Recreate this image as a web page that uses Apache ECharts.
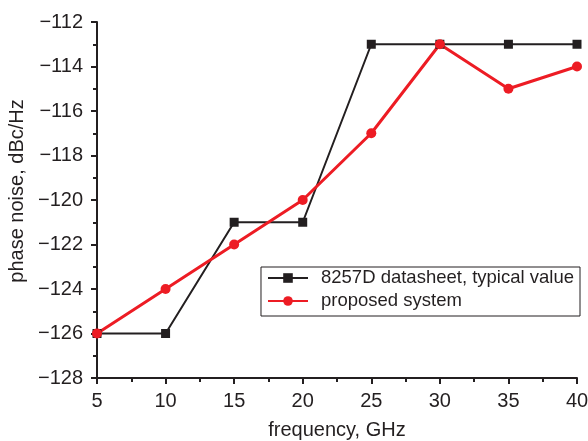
<!DOCTYPE html>
<html>
<head>
<meta charset="utf-8">
<script src="https://cdn.jsdelivr.net/npm/echarts@6/dist/echarts.min.js"></script>
<style>
  html, body { margin: 0; padding: 0; background: #fff; }
  #chart { width: 588px; height: 441px; }
</style>
</head>
<body>
<div id="chart"></div>
<script>
// frequency, GHz
var freq = [5, 10, 15, 20, 25, 30, 35, 40];
// phase noise, dBc/Hz
var datasheet = [-126, -126, -121, -121, -113, -113, -113, -113];
var proposed = [-126, -124, -122, -120, -117, -113, -115, -114];

var names = ['8257D datasheet, typical value', 'proposed system'];

function pairs(ys) {
    var out = [];
    for (var i = 0; i < freq.length; i++) {
        out.push([freq[i], ys[i]]);
    }
    return out;
}

var myChart = echarts.init(document.getElementById('chart'));
var font = 'Liberation Sans, Arial, sans-serif';
var ink = '#231f20';

var option = {
    animation: false,
    grid: { left: 97, right: 11, top: 22, bottom: 63, containLabel: false, outerBoundsMode: 'none' },
    legend: {
        right: 8,
        top: 267,
        orient: 'vertical',
        itemWidth: 40,
        itemHeight: 12,
        itemGap: 3,
        padding: [1, 6, 5, 6],
        borderColor: ink,
        borderWidth: 1,
        textStyle: { fontFamily: font, fontSize: 18.5, lineHeight: 20, color: ink, padding: [0, 0, 0, 8] },
        data: names
    },
    xAxis: {
        type: 'value',
        min: 5,
        max: 40,
        interval: 5,
        name: 'frequency, GHz',
        nameLocation: 'middle',
        nameGap: 42,
        nameTextStyle: { fontFamily: font, fontSize: 20, color: ink },
        axisLine: { lineStyle: { color: ink, width: 2 } },
        axisTick: { inside: false, length: 6, lineStyle: { color: ink, width: 2 } },
        minorTick: { show: true, splitNumber: 2, length: 4, lineStyle: { color: ink, width: 2 } },
        axisLabel: { fontFamily: font, fontSize: 20, color: ink, margin: 13 },
        splitLine: { show: false }
    },
    yAxis: {
        type: 'value',
        min: -128,
        max: -112,
        interval: 2,
        name: 'phase noise, dBc/Hz',
        nameLocation: 'middle',
        nameGap: 70,
        nameTextStyle: { fontFamily: font, fontSize: 20, color: ink, padding: [0, 0, 0, 18] },
        axisLine: { show: true, lineStyle: { color: ink, width: 2 } },
        axisTick: { show: true, inside: false, length: 6, lineStyle: { color: ink, width: 2 } },
        minorTick: { show: true, splitNumber: 2, length: 4, lineStyle: { color: ink, width: 2 } },
        axisLabel: {
            fontFamily: font, fontSize: 20, color: ink, margin: 14,
            formatter: function (v) { return String(v).replace('-', '\u2212'); }
        },
        splitLine: { show: false }
    },
    series: [
        {
            name: names[0],
            type: 'line',
            data: pairs(datasheet),
            symbol: 'rect',
            symbolSize: 9,
            color: ink,
            lineStyle: { color: ink, width: 2 },
            itemStyle: { color: ink }
        },
        {
            name: names[1],
            type: 'line',
            data: pairs(proposed),
            symbol: 'circle',
            symbolSize: 10,
            color: '#ed1c24',
            lineStyle: { color: '#ed1c24', width: 3 },
            itemStyle: { color: '#ed1c24' }
        }
    ]
};

myChart.setOption(option);
</script>
</body>
</html>
